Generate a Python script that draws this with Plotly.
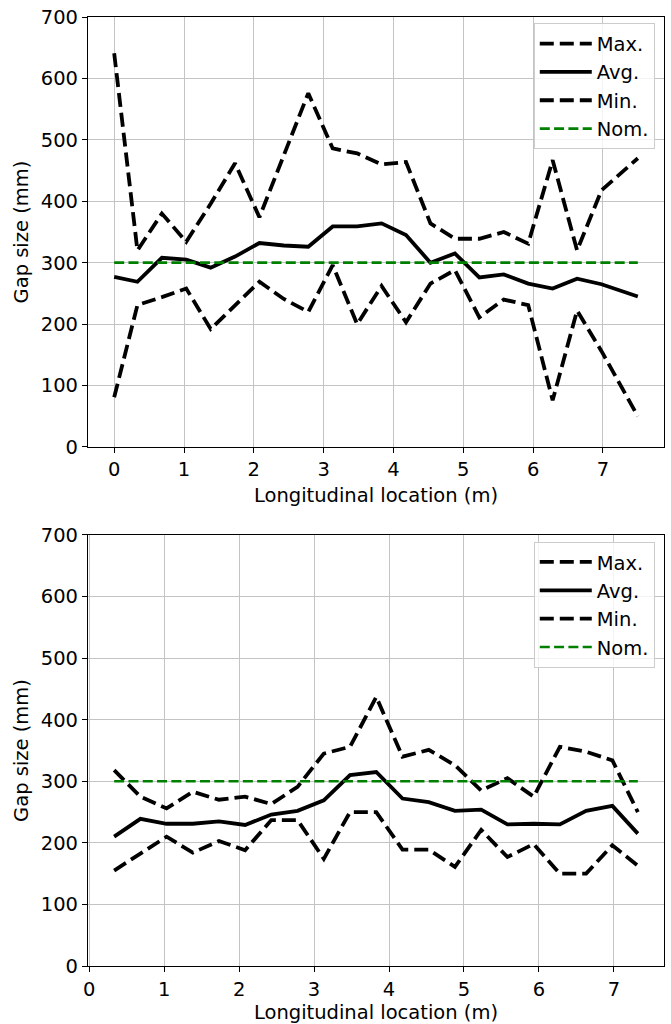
import plotly.graph_objects as go

# ---------------- data ----------------
x_top = [0.0, 0.333, 0.683, 1.032, 1.382, 1.731, 2.08, 2.43, 2.78, 3.13, 3.48,
         3.83, 4.18, 4.53, 4.88, 5.23, 5.58, 5.93, 6.28, 6.63, 6.98, 7.5]
max_top = [641, 320, 380, 334, 396, 462, 374, 476, 576, 486, 478,
           460, 464, 364, 339, 339, 350, 331, 467, 320, 418, 470]
avg_top = [277, 269, 308, 305, 292, 310, 332, 328, 326, 359, 359,
           364, 345, 300, 315, 276, 281, 266, 258, 274, 265, 245]
min_top = [81, 231, 244, 258, 192, 231, 269, 241, 220, 296, 200,
           262, 203, 266, 288, 211, 240, 231, 76, 222, 156, 50]

x_bot = [0.333, 0.683, 1.032, 1.382, 1.731, 2.08, 2.43, 2.78, 3.13, 3.48, 3.83,
         4.18, 4.53, 4.88, 5.23, 5.58, 5.93, 6.28, 6.63, 6.98, 7.32]
max_bot = [318, 275, 256, 283, 270, 275, 263, 291, 345, 356, 437,
           340, 351, 326, 285, 305, 275, 356, 348, 334, 250]
avg_bot = [210, 239, 231, 231, 235, 229, 246, 252, 269, 310, 315,
           272, 266, 252, 254, 230, 231, 230, 252, 260, 215]
min_bot = [155, 183, 210, 184, 203, 188, 237, 237, 174, 250, 250,
           189, 189, 161, 221, 177, 198, 150, 150, 196, 163]

NOMINAL = 300
nom_top = [NOMINAL] * len(x_top)
nom_bot = [NOMINAL] * len(x_bot)

names = ["Max.", "Avg.", "Min.", "Nom."]
y_ticks = [0, 100, 200, 300, 400, 500, 600, 700]
x_ticks = [0, 1, 2, 3, 4, 5, 6, 7]

# ---------------- styles ----------------
FONT = "DejaVu Sans"
FS = 19.5
BLACK_DASH = dict(color="#000000", width=3.8, dash="14px,6px")
BLACK_SOLID = dict(color="#000000", width=3.8)
GREEN_DASH = dict(color="#008000", width=2.7, dash="10px,4.3px")

fig = go.Figure()


def add_panel(x, mx, av, mn, nom, xa, ya, leg):
    series = [(mx, BLACK_DASH), (av, BLACK_SOLID), (mn, BLACK_DASH), (nom, GREEN_DASH)]
    for i, (vals, ln) in enumerate(series):
        fig.add_trace(go.Scatter(
            x=x, y=vals, mode="lines", name=names[i], line=ln,
            xaxis=xa, yaxis=ya, legend=leg, legendgroup=leg + str(i),
        ))


add_panel(x_top, max_top, avg_top, min_top, nom_top, "x", "y", "legend")
add_panel(x_bot, max_bot, avg_bot, min_bot, nom_bot, "x2", "y2", "legend2")

axis_common = dict(
    showline=True, linecolor="#000000", linewidth=1.2, mirror=True,
    showgrid=True, gridcolor="#c4c4c4", gridwidth=1,
    ticks="outside", ticklen=5, tickwidth=1.2, tickcolor="#000000",
    tickfont=dict(family=FONT, size=FS, color="#000000"),
    zeroline=False, automargin=False, ticklabeloverflow="allow",
)

top_dom = [0.5469, 1.0]
bot_dom = [0.0, 0.4542]

xt = dict(text="Longitudinal location (m)", standoff=7, font=dict(family=FONT, size=FS))
yt = dict(text="Gap size (mm)", standoff=6, font=dict(family=FONT, size=FS))

leg_common = dict(xanchor="right", yanchor="top",
                  bgcolor="rgba(255,255,255,0.8)", bordercolor="#cccccc", borderwidth=1,
                  font=dict(family=FONT, size=FS), tracegroupgap=0, itemwidth=52)

fig.update_layout(
    width=671, height=1024,
    margin=dict(l=88, r=7, t=17, b=58),
    paper_bgcolor="#ffffff", plot_bgcolor="#ffffff",
    font=dict(family=FONT, size=FS, color="#000000"),
    xaxis=dict(axis_common, domain=[0, 1], anchor="y", range=[-0.375, 7.875],
               tickvals=x_ticks, title=xt),
    yaxis=dict(axis_common, domain=top_dom, anchor="x", range=[0, 700],
               tickvals=y_ticks, title=yt),
    xaxis2=dict(axis_common, domain=[0, 1], anchor="y2", range=[-0.016, 7.669],
                tickvals=x_ticks, title=xt),
    yaxis2=dict(axis_common, domain=bot_dom, anchor="x2", range=[0, 700],
                tickvals=y_ticks, title=yt),
    legend=dict(leg_common, x=0.984, y=0.9933),
    legend2=dict(leg_common, x=0.984, y=0.447),
    showlegend=True,
)

# remove the browser's default page margin so the figure fills the window exactly
fig.write_html("out.html",
               config={"displayModeBar": False},
               post_script="document.body.style.margin='0';document.body.style.overflow='hidden';")
